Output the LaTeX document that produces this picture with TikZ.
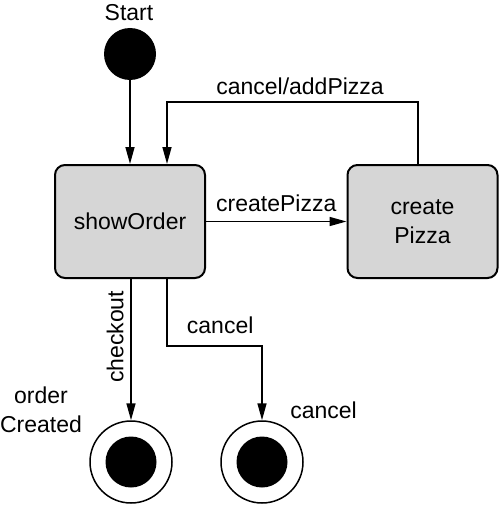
\documentclass[tikz,border=0pt]{standalone}
\usepackage{fontspec}
\setmainfont{Liberation Sans}
\usetikzlibrary{arrows.meta}
\definecolor{boxgray}{RGB}{214,214,214}

\begin{document}
\begin{tikzpicture}[x=0.5pt, y=-0.5pt,
    every node/.style={font=\fontsize{11.5}{14.5}\selectfont},
    state/.style={draw, line width=1pt, rounded corners=5pt, fill=boxgray, minimum width=75pt, minimum height=56.5pt, align=center},
    startdot/.style={circle, fill=black, minimum size=26pt, inner sep=0pt},
    enddot/.style={circle, draw, line width=0.75pt, fill=white, minimum size=41pt, inner sep=0pt,
        path picture={\fill[black] (path picture bounding box.center) circle (12.75pt);}},
    trans/.style={line width=0.75pt, -{Triangle[length=8.5pt, width=4.5pt]}}]
    \useasboundingbox (0,0) rectangle (499,508);

    % states
    \node[startdot] (start) at (130,54) {};
    \node (startLbl) at (129,13) {Start};
    \node[state] (showOrder) at (130,221.5) {showOrder};
    \node[state] (createPizza) at (422.5,221.5) {create\\Pizza};
    \node[enddot] (orderCreated) at (131,462) {};
    \node[enddot] (cancelled) at (262,462) {};
    \node[align=center] (orderLbl) at (41,410) {order\\Created};
    \node (cancelLbl) at (323.5,410) {cancel};

    % transitions
    \draw[trans] (start) -- (showOrder);
    \draw[trans] (showOrder) -- node[above=1pt] {createPizza} (createPizza);
    \coordinate (backR) at (418,102);
    \coordinate (backL) at (167,102);
    \draw[trans] (createPizza.north -| backR) -- (backR) -- node[above, pos=0.47] {cancel/addPizza} (backL) -- (showOrder.north -| backL);
    \draw[trans] (showOrder.south -| orderCreated) -- node[pos=0.41, rotate=90, anchor=south] {checkout} (orderCreated);
    \coordinate (cancelBend) at (167,346);
    \draw[trans] (showOrder.south -| cancelBend) -- (cancelBend) -| node[pos=0.28, above=2.5pt] {cancel} (cancelled);
\end{tikzpicture}
\end{document}
